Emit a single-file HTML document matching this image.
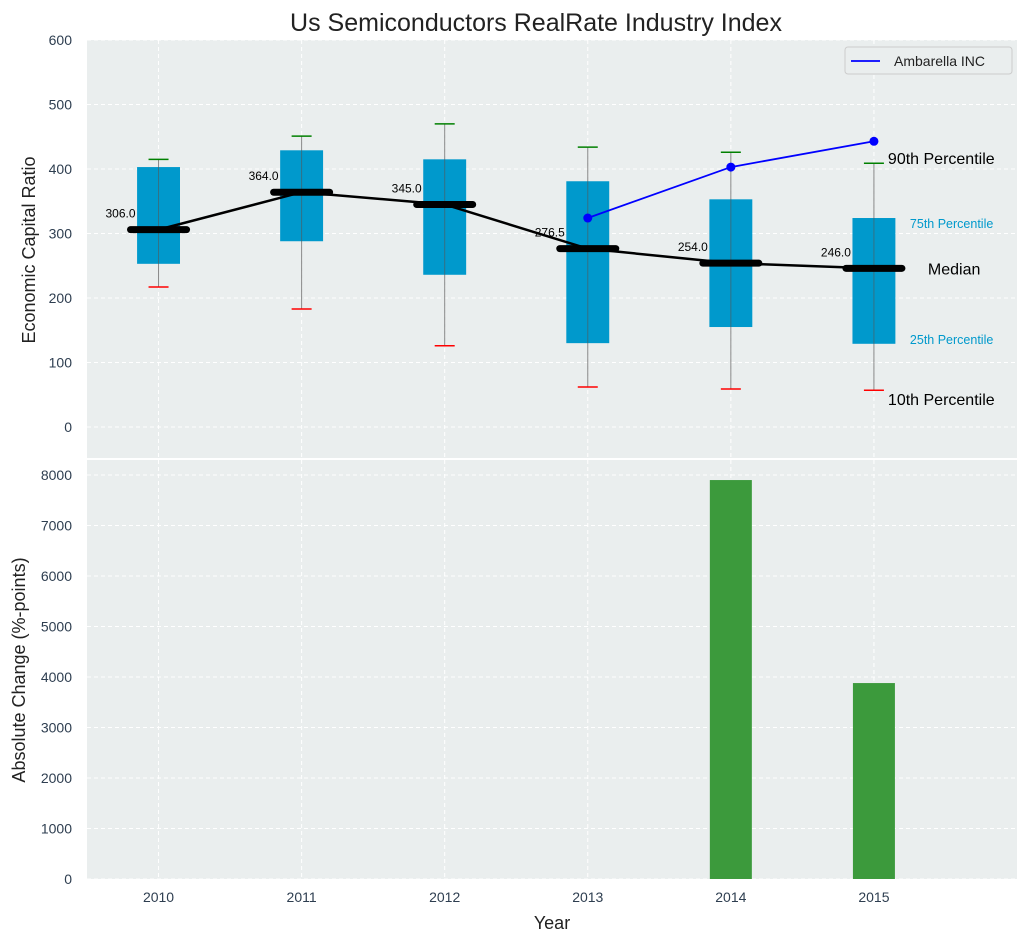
<!DOCTYPE html>
<html><head><meta charset="utf-8"><style>
body{margin:0;background:#fff;}
svg{font-family:"Liberation Sans","DejaVu Sans",sans-serif;}
</style></head><body>
<svg id="c" width="1026" height="942" xmlns="http://www.w3.org/2000/svg"></svg>
<script>
const years=[2010,2011,2012,2013,2014,2015];
const p10=[217,183,126,62,59,57];
const p25=[253,288,236,130,155,129];
const med=[306,364,345,276.5,254,246];
const p75=[403,429,415,381,353,324];
const p90=[415,451,470,434,426,409];
const compYears=[2013,2014,2015];
const compVals=[324,403,443];
const changes=[0,0,0,0,7900,3880];
const topTicks=[0,100,200,300,400,500,600];
const botTicks=[0,1000,2000,3000,4000,5000,6000,7000,8000];

const NS="http://www.w3.org/2000/svg";
const svg=document.getElementById('c');
function el(t,a,txt){const e=document.createElementNS(NS,t);for(const k in a)e.setAttribute(k,a[k]);if(txt!==undefined)e.textContent=txt;svg.appendChild(e);return e;}
const X0=87,X1=1017;
const x=v=>X0+(v-2009.5)/(6.5)*(X1-X0);
const yT=v=>427-v*0.645;
const yB=v=>879-v*0.0505;
const ux=x(2011)-x(2010);

let r=el('rect',{x:X0,y:40,width:X1-X0,height:418,fill:'#eaeeee'});

r=el('rect',{x:X0,y:460,width:X1-X0,height:419,fill:'#eaeeee'});


topTicks.forEach(t=>{
  el('line',{x1:X0,x2:X1,y1:yT(t),y2:yT(t),stroke:'#fff','stroke-dasharray':'4,3'});
  const l=el('text',{x:72,y:yT(t)+5,'text-anchor':'end','font-size':14,fill:'#2e3e50'},t);
  
});
botTicks.forEach(t=>{
  el('line',{x1:X0,x2:X1,y1:yB(t),y2:yB(t),stroke:'#fff','stroke-dasharray':'4,3'});
  const l=el('text',{x:72,y:yB(t)+5,'text-anchor':'end','font-size':14,fill:'#2e3e50'},t);
  
});
years.forEach(yr=>{
  el('line',{x1:x(yr),x2:x(yr),y1:40,y2:458,stroke:'#fff','stroke-dasharray':'4,3'});
  el('line',{x1:x(yr),x2:x(yr),y1:460,y2:879,stroke:'#fff','stroke-dasharray':'4,3'});
  const l=el('text',{x:x(yr),y:902,'text-anchor':'middle','font-size':14,fill:'#2e3e50'},yr);
  
});

const bw=ux*0.3;
years.forEach((yr,i)=>{
  const cx=x(yr);
  el('line',{x1:cx,x2:cx,y1:yT(p90[i]),y2:yT(p10[i]),stroke:'#888','stroke-width':1});
  const b=el('rect',{x:cx-bw/2,y:yT(p75[i]),width:bw,height:yT(p25[i])-yT(p75[i]),fill:'#0099cc'});
  
  el('line',{x1:cx,x2:cx,y1:yT(p75[i]),y2:yT(p25[i]),stroke:'#555','stroke-width':1,opacity:0.6});
  el('line',{x1:cx-10,x2:cx+10,y1:yT(p90[i]),y2:yT(p90[i]),stroke:'green','stroke-width':1.5});
  el('line',{x1:cx-10,x2:cx+10,y1:yT(p10[i]),y2:yT(p10[i]),stroke:'red','stroke-width':1.5});
});
el('polyline',{points:years.map((yr,i)=>x(yr)+','+yT(med[i])).join(' '),fill:'none',stroke:'#000','stroke-width':2.5});
years.forEach((yr,i)=>{
  const cx=x(yr);
  const m=el('line',{x1:cx-28,x2:cx+28,y1:yT(med[i]),y2:yT(med[i]),stroke:'#000','stroke-width':7,'stroke-linecap':'round'});
  
  const t=el('text',{x:cx-23,y:yT(med[i])-12,'text-anchor':'end','font-size':12,fill:'#000'},med[i].toFixed(1));
  
});
el('polyline',{points:compYears.map((yr,i)=>x(yr)+','+yT(compVals[i])).join(' '),fill:'none',stroke:'blue','stroke-width':1.8});
compYears.forEach((yr,i)=>{
  const p=el('circle',{cx:x(yr),cy:yT(compVals[i]),r:4.5,fill:'blue'});
  
});
const lx=x(2015);
[['90th Percentile',lx+14,yT(p90[5])+1,16,'#000'],['75th Percentile',lx+36,yT(p75[5])+10,12.5,'#0099cc'],['Median',lx+54,yT(med[5])+6,16,'#000'],['25th Percentile',lx+36,yT(p25[5]),12.5,'#0099cc'],['10th Percentile',lx+14,yT(p10[5])+15,16,'#000']].forEach(a=>{
  const t=el('text',{x:a[1],y:a[2],'font-size':a[3],fill:a[4]},a[0]);
  
});
years.forEach((yr,i)=>{
  if(changes[i]>0){
    const b=el('rect',{x:x(yr)-21,y:yB(changes[i]),width:42,height:879-yB(changes[i]),fill:'#3c9a3c'});
    
  }
});
const lg=el('rect',{x:845,y:47,width:167,height:27,fill:'#eaeeee',stroke:'#ccc',rx:3});

el('line',{x1:851,x2:880,y1:61,y2:61,stroke:'blue','stroke-width':1.8});
const le=el('text',{x:894,y:66,'font-size':14,fill:'#222'},'Ambarella INC');

let t=el('text',{x:536,y:31,'text-anchor':'middle','font-size':25,fill:'#222'},'Us Semiconductors RealRate Industry Index');

t=el('text',{x:0,y:0,'text-anchor':'middle','font-size':18,fill:'#222',transform:'translate(35,250) rotate(-90)'},'Economic Capital Ratio');

t=el('text',{x:0,y:0,'text-anchor':'middle','font-size':18,fill:'#222',transform:'translate(25,670) rotate(-90)'},'Absolute Change (%-points)');

t=el('text',{x:552,y:929,'text-anchor':'middle','font-size':18,fill:'#222'},'Year');

</script>
</body></html>
